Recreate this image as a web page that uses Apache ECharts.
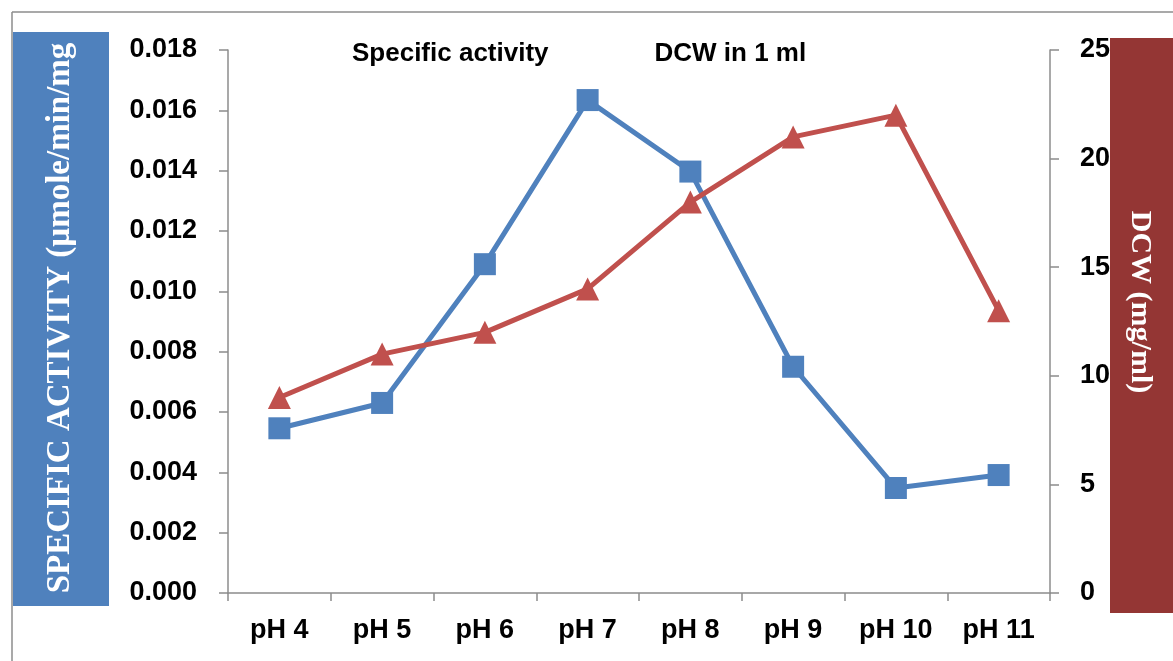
<!DOCTYPE html>
<html>
<head>
<meta charset="utf-8">
<script src="https://cdn.jsdelivr.net/npm/echarts@6/dist/echarts.min.js"></script>
<style>
html,body{margin:0;padding:0;background:#fff;}
#chart{width:1173px;height:661px;}
</style>
</head>
<body>
<div id="chart"></div>
<script>
const categories = ['pH 4','pH 5','pH 6','pH 7','pH 8','pH 9','pH 10','pH 11'];
const specificActivity = [0.00546, 0.0063, 0.0109, 0.01634, 0.01397, 0.0075, 0.00348, 0.00391];
const dcw = [9, 11, 12, 14, 18, 21, 22, 13];
const seriesNames = ['Specific activity', 'DCW in 1 ml'];
const leftAxisTitle = 'SPECIFIC ACTIVITY (µmole/min/mg';
const rightAxisTitle = 'DCW (mg/ml)';

const chart = echarts.init(document.getElementById('chart'), null, {renderer:'canvas'});
const labelFont = {fontFamily:'Liberation Sans, Arial, sans-serif', fontWeight:'bold', fontSize:27, color:'#000'};
const axisLineStyle = {color:'#8c8c8c', width:1.5};

chart.setOption({
  animation:false,
  backgroundColor:'#fff',
  grid:{left:228, right:123, top:50, bottom:68, containLabel:false},
  legend:{
    data:seriesNames,
    left:341, top:36,
    itemWidth:0, itemHeight:0, itemGap:100,
    textStyle:Object.assign({}, labelFont, {fontSize:26})
  },
  xAxis:{
    type:'category', data:categories, boundaryGap:true,
    axisLine:{show:true, lineStyle:axisLineStyle},
    axisTick:{show:true, length:8, lineStyle:axisLineStyle, interval:0},
    axisLabel:Object.assign({margin:24, interval:0}, labelFont),
    splitLine:{show:false}
  },
  yAxis:[
    {
      type:'value', min:0, max:0.018, interval:0.002,
      axisLine:{show:true, lineStyle:axisLineStyle},
      axisTick:{show:true, length:9, lineStyle:axisLineStyle},
      axisLabel:Object.assign({margin:31, formatter:v=>v.toFixed(3)}, labelFont),
      splitLine:{show:false}
    },
    {
      type:'value', min:0, max:25, interval:5, position:'right',
      axisLine:{show:true, lineStyle:axisLineStyle},
      axisTick:{show:true, length:9, lineStyle:axisLineStyle},
      axisLabel:Object.assign({margin:30}, labelFont),
      splitLine:{show:false}
    }
  ],
  series:[
    {
      name:seriesNames[0], type:'line', yAxisIndex:0, data:specificActivity,
      symbol:'rect', symbolSize:22,
      lineStyle:{color:'#4F81BD', width:5},
      itemStyle:{color:'#4F81BD'}
    },
    {
      name:seriesNames[1], type:'line', yAxisIndex:1, data:dcw,
      symbol:'triangle', symbolSize:[23,23],
      lineStyle:{color:'#C0504D', width:5},
      itemStyle:{color:'#C0504D'}
    }
  ],
  graphic:[
    {type:'line', shape:{x1:12, y1:12, x2:1173, y2:12}, style:{stroke:'#8c8c8c', lineWidth:1.5}},
    {type:'line', shape:{x1:12, y1:12, x2:12, y2:661}, style:{stroke:'#8c8c8c', lineWidth:1.5}},
    {type:'rect', shape:{x:13, y:32, width:96, height:574}, style:{fill:'#4F81BD'}},
    {type:'text', x:60, y:318, rotation:Math.PI/2,
      style:{text:leftAxisTitle, fill:'#fff', font:'bold 33px "Liberation Serif", "Times New Roman", serif', textAlign:'center', textVerticalAlign:'middle'}},
    {type:'rect', shape:{x:1110, y:38, width:63, height:575}, style:{fill:'#943634'}},
    {type:'text', x:1140, y:302, rotation:-Math.PI/2,
      style:{text:rightAxisTitle, fill:'#fff', font:'bold 30px "Liberation Serif", "Times New Roman", serif', textAlign:'center', textVerticalAlign:'middle'}}
  ]
});
</script>
</body>
</html>
